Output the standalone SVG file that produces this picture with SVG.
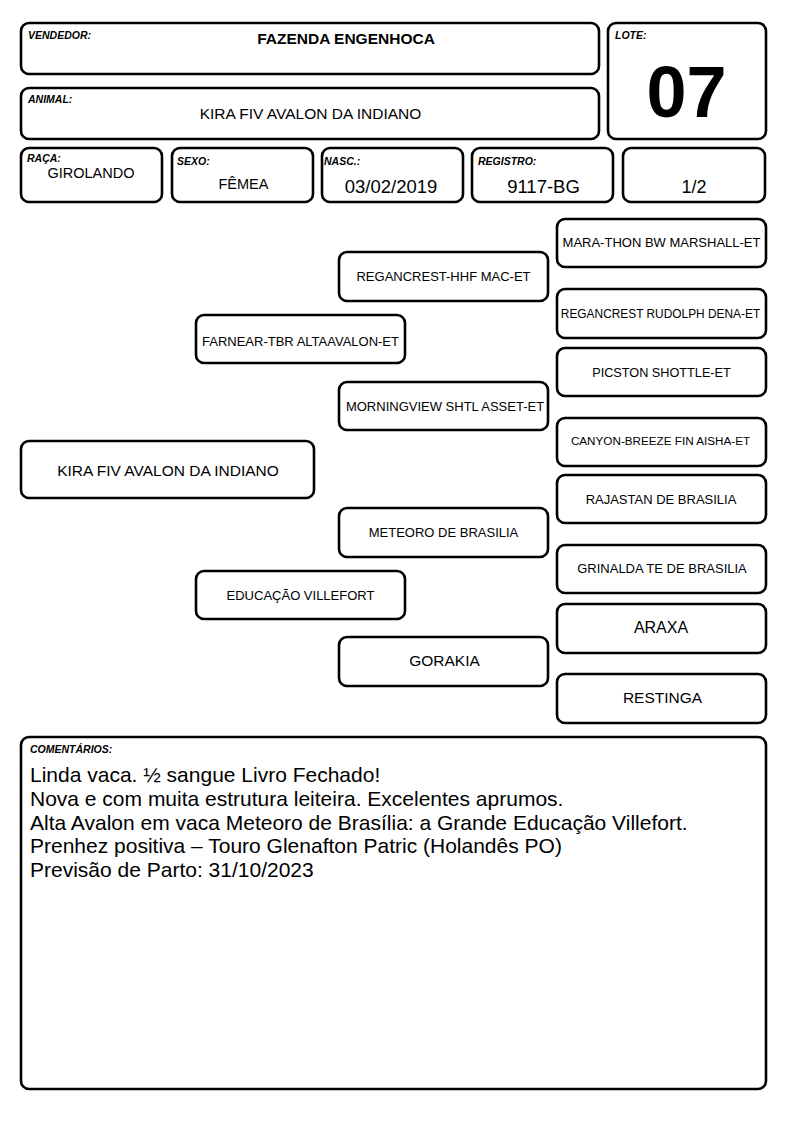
<svg xmlns="http://www.w3.org/2000/svg" width="794" height="1123" viewBox="0 0 794 1123">
<style>
.b{fill:#fff;stroke:#000;stroke-width:2.6}
.lbl{font-family:"Liberation Sans",Arial,sans-serif;font-weight:bold;font-style:italic;font-size:10.5px;fill:#000}
.v{font-family:"Liberation Sans",Arial,sans-serif;fill:#000;text-anchor:middle}
.p{font-family:"Liberation Sans",Arial,sans-serif;font-size:13px;fill:#000;text-anchor:middle}
.c{font-family:"Liberation Sans",Arial,sans-serif;font-size:21px;fill:#000}
</style>
<rect width="794" height="1123" fill="#fff"/>
<g id="vendedor">
<rect class="b" x="21" y="23" width="578" height="51" rx="8"/>
<text class="lbl" x="28" y="39">VENDEDOR:</text>
<text class="v" x="346" y="44" font-size="15.5" font-weight="bold">FAZENDA ENGENHOCA</text>
</g>
<g id="animal">
<rect class="b" x="21" y="88" width="578" height="51" rx="8"/>
<text class="lbl" x="28" y="103">ANIMAL:</text>
<text class="v" x="310.5" y="119" font-size="15.5">KIRA FIV AVALON DA INDIANO</text>
</g>
<g id="lote">
<rect class="b" x="608" y="23" width="158" height="116" rx="8"/>
<text class="lbl" x="615" y="39">LOTE:</text>
<text class="v" x="686.5" y="117" font-size="72" font-weight="bold">07</text>
</g>
<g id="raca">
<rect class="b" x="21" y="148" width="141" height="54" rx="8"/>
<text class="lbl" x="27" y="162">RAÇA:</text>
<text class="v" x="91" y="178" font-size="14.5">GIROLANDO</text>
</g>
<g id="sexo">
<rect class="b" x="172" y="148" width="141" height="54" rx="8"/>
<text class="lbl" x="177" y="165">SEXO:</text>
<text class="v" x="243.5" y="189" font-size="14.5">FÊMEA</text>
</g>
<g id="nasc">
<rect class="b" x="322" y="148" width="141" height="54" rx="8"/>
<text class="lbl" x="324" y="165">NASC.:</text>
<text class="v" x="391" y="193" font-size="18.5">03/02/2019</text>
</g>
<g id="registro">
<rect class="b" x="472" y="148" width="141" height="54" rx="8"/>
<text class="lbl" x="478" y="165">REGISTRO:</text>
<text class="v" x="543.5" y="193" font-size="18.5">9117-BG</text>
</g>
<g id="fracao">
<rect class="b" x="623" y="148" width="142" height="54" rx="8"/>
<text class="v" x="694" y="193" font-size="18">1/2</text>
</g>
<g id="connectors"></g>
<g id="kira">
<rect class="b" x="21" y="441" width="293" height="57" rx="8"/>
<text class="v" x="168" y="476" font-size="15.5">KIRA FIV AVALON DA INDIANO</text>
</g>
<g id="farnear">
<rect class="b" x="196" y="315" width="209" height="48" rx="8"/>
<text class="p" x="300.5" y="346">FARNEAR-TBR ALTAAVALON-ET</text>
</g>
<g id="educacao">
<rect class="b" x="196" y="571" width="209" height="48" rx="8"/>
<text class="p" x="300.5" y="600">EDUCAÇÃO VILLEFORT</text>
</g>
<g id="regancrest-hhf">
<rect class="b" x="339" y="252" width="209" height="49" rx="8"/>
<text class="p" x="443.5" y="281">REGANCREST-HHF MAC-ET</text>
</g>
<g id="morningview">
<rect class="b" x="339" y="382" width="209" height="48" rx="8"/>
<text class="p" x="445" y="411">MORNINGVIEW SHTL ASSET-ET</text>
</g>
<g id="meteoro">
<rect class="b" x="339" y="508" width="209" height="49" rx="8"/>
<text class="p" x="443.5" y="537">METEORO DE BRASILIA</text>
</g>
<g id="gorakia">
<rect class="b" x="339" y="637" width="209" height="49" rx="8"/>
<text class="v" x="444.5" y="666" font-size="15.5">GORAKIA</text>
</g>
<g id="marathon">
<rect class="b" x="557" y="219" width="209" height="48" rx="8"/>
<text class="p" x="661.5" y="247">MARA-THON BW MARSHALL-ET</text>
</g>
<g id="rudolph">
<rect class="b" x="557" y="289" width="209" height="49" rx="8"/>
<text class="p" x="660.5" y="318" style="font-size:11.9px">REGANCREST RUDOLPH DENA-ET</text>
</g>
<g id="picston">
<rect class="b" x="557" y="348" width="209" height="48" rx="8"/>
<text class="p" x="661.5" y="377" style="font-size:12.7px">PICSTON SHOTTLE-ET</text>
</g>
<g id="canyon">
<rect class="b" x="557" y="418" width="209" height="48" rx="8"/>
<text class="p" x="660.5" y="445" style="font-size:11.7px">CANYON-BREEZE FIN AISHA-ET</text>
</g>
<g id="rajastan">
<rect class="b" x="557" y="475" width="209" height="48" rx="8"/>
<text class="p" x="661" y="504">RAJASTAN DE BRASILIA</text>
</g>
<g id="grinalda">
<rect class="b" x="557" y="545" width="209" height="48" rx="8"/>
<text class="p" x="662" y="573">GRINALDA TE DE BRASILIA</text>
</g>
<g id="araxa">
<rect class="b" x="557" y="604" width="209" height="49" rx="8"/>
<text class="v" x="661" y="633" font-size="16">ARAXA</text>
</g>
<g id="restinga">
<rect class="b" x="557" y="674" width="209" height="49" rx="8"/>
<text class="v" x="662.5" y="703" font-size="15.5">RESTINGA</text>
</g>
<g id="comentarios">
<rect class="b" x="21" y="737" width="745" height="352" rx="8"/>
<text class="lbl" x="30" y="753">COMENTÁRIOS:</text>
<text class="c" x="30" y="782">Linda vaca. ½ sangue Livro Fechado!</text>
<text class="c" x="30" y="805.75">Nova e com muita estrutura leiteira. Excelentes aprumos.</text>
<text class="c" x="30" y="829.5">Alta Avalon em vaca Meteoro de Brasília: a Grande Educação Villefort.</text>
<text class="c" x="30" y="853.25">Prenhez positiva – Touro Glenafton Patric (Holandês PO)</text>
<text class="c" x="30" y="877">Previsão de Parto: 31/10/2023</text>
</g>
</svg>
